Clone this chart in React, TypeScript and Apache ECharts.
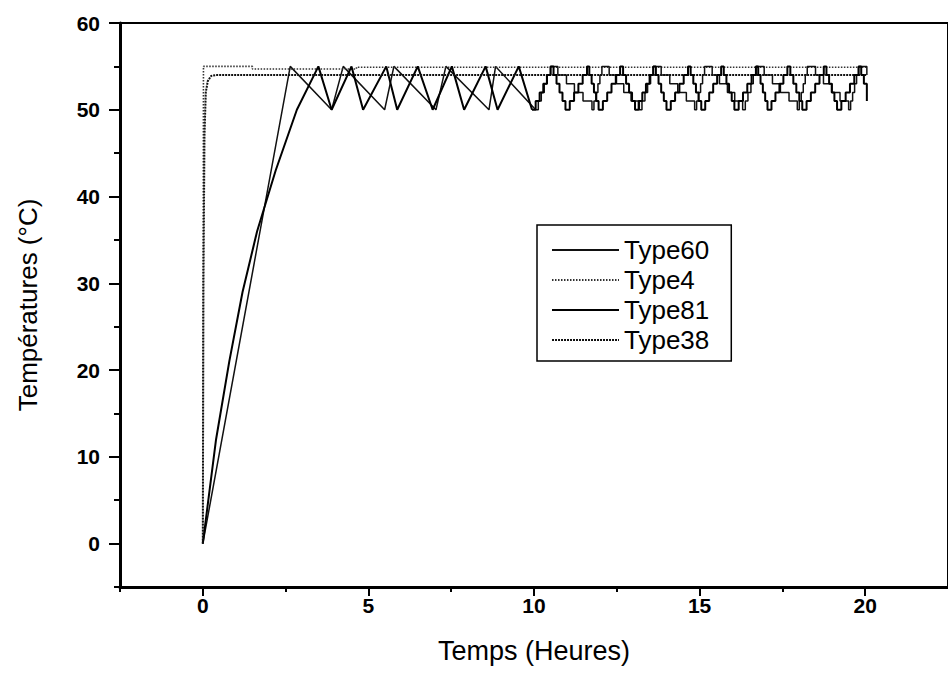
import React, { useEffect, useRef } from 'react';
import * as echarts from 'echarts';

const xMajorTicks = [0, 5, 10, 15, 20];
const xMinorTicks = [-2.5, 2.5, 7.5, 12.5, 17.5];
const yMajorTicks = [0, 10, 20, 30, 40, 50, 60];
const yMinorTicks = [-5, 5, 15, 25, 35, 45, 55];
const seriesNames = ['Type60', 'Type4', 'Type81', 'Type38'];

// Type60: fast linear rise then slow-fall sawtooth (straight part, 0 - 10 h)
const type60Ramp = [
  [0, 0], [2.64, 55], [3.89, 50], [4.24, 55], [5.49, 50], [5.77, 55], [7.04, 50],
  [7.34, 55], [8.64, 50], [8.84, 55], [10.05, 50],
];
// Type60: stepped part (10 - 20 h)
const type60Steps = [
  [10.05, 50], [10.13, 51], [10.22, 52], [10.31, 53], [10.4, 54], [10.5, 55],
  [10.72, 54], [10.98, 53], [11.22, 52], [11.48, 51], [11.75, 50],
  [11.81, 51], [11.87, 52], [11.93, 53], [11.99, 54], [12.05, 55],
  [12.27, 54], [12.49, 53], [12.71, 52], [12.93, 51], [13.18, 50],
  [13.26, 51], [13.35, 52], [13.43, 53], [13.52, 54], [13.6, 55],
  [13.84, 54], [14.1, 53], [14.34, 52], [14.6, 51], [14.85, 50],
  [14.91, 51], [14.97, 52], [15.03, 53], [15.09, 54], [15.15, 55],
  [15.38, 54], [15.6, 53], [15.84, 52], [16.06, 51], [16.3, 50],
  [16.38, 51], [16.46, 52], [16.55, 53], [16.62, 54], [16.7, 55],
  [16.95, 54], [17.2, 53], [17.44, 52], [17.7, 51], [17.95, 50],
  [18.01, 51], [18.07, 52], [18.13, 53], [18.19, 54], [18.25, 55],
  [18.5, 54], [18.74, 53], [19.0, 52], [19.24, 51], [19.5, 50],
  [19.56, 51], [19.62, 52], [19.68, 53], [19.74, 54], [19.8, 55],
  [20.05, 54],
];
// Type4: dotted near-constant line at ~55 °C
const type4Data = [
  [0, 0], [0.02, 55], [1.5, 55], [1.5, 54.7], [4.64, 54.7], [4.64, 54.9], [20.05, 54.9],
];
// Type38: dense dotted constant line at ~54 °C
const type38Data = [
  [0, 0], [0.02, 30], [0.05, 47], [0.09, 52], [0.15, 53.3], [0.25, 53.9], [0.4, 54], [20.05, 54],
];
// Type81: curved rise then sawtooth (straight part, 0 - 10 h)
const type81Ramp = [
  [0, 0], [0.4, 12], [0.8, 21], [1.2, 29], [1.64, 36], [2.2, 43], [2.84, 50], [3.49, 55],
  [3.89, 50], [4.49, 55], [4.84, 50], [5.54, 55], [5.87, 50], [6.49, 55], [6.94, 50],
  [7.52, 55], [7.89, 50], [8.54, 55], [8.9, 50], [9.54, 55], [9.94, 50],
];
// Type81: stepped part (10 - 20 h)
const type81Steps = [
  [9.94, 50], [10.05, 51], [10.17, 52], [10.28, 53], [10.39, 54], [10.5, 55],
  [10.59, 54], [10.68, 53], [10.77, 52], [10.86, 51], [10.95, 50],
  [11.08, 51], [11.21, 52], [11.34, 53], [11.47, 54], [11.6, 55],
  [11.67, 54], [11.74, 53], [11.81, 52], [11.88, 51], [11.95, 50],
  [12.08, 51], [12.21, 52], [12.34, 53], [12.47, 54], [12.6, 55],
  [12.69, 54], [12.78, 53], [12.87, 52], [12.96, 51], [13.05, 50],
  [13.16, 51], [13.27, 52], [13.38, 53], [13.49, 54], [13.6, 55],
  [13.68, 54], [13.76, 53], [13.84, 52], [13.92, 51], [14.0, 50],
  [14.13, 51], [14.26, 52], [14.39, 53], [14.52, 54], [14.65, 55],
  [14.73, 54], [14.81, 53], [14.89, 52], [14.97, 51], [15.05, 50],
  [15.17, 51], [15.29, 52], [15.41, 53], [15.53, 54], [15.65, 55],
  [15.73, 54], [15.81, 53], [15.89, 52], [15.97, 51], [16.05, 50],
  [16.18, 51], [16.31, 52], [16.44, 53], [16.57, 54], [16.7, 55],
  [16.77, 54], [16.84, 53], [16.91, 52], [16.98, 51], [17.05, 50],
  [17.17, 51], [17.29, 52], [17.41, 53], [17.53, 54], [17.65, 55],
  [17.74, 54], [17.83, 53], [17.92, 52], [18.01, 51], [18.1, 50],
  [18.23, 51], [18.36, 52], [18.49, 53], [18.62, 54], [18.75, 55],
  [18.83, 54], [18.91, 53], [18.99, 52], [19.07, 51], [19.15, 50],
  [19.28, 51], [19.41, 52], [19.54, 53], [19.67, 54], [19.8, 55],
  [19.88, 54], [19.96, 53], [20.05, 51],
];

const FONT = '"Liberation Sans", Arial, sans-serif';

export default function App() {
  const ref = useRef<HTMLDivElement>(null);
  useEffect(() => {
    if (!ref.current) return;
    const chart = echarts.init(ref.current, null, { renderer: 'svg' });
    const styles: Record<string, any> = {
      Type60: { color: '#111', width: 1.5, type: 'solid' },
      Type4: { color: '#333', width: 1.6, type: [1.5, 1.5] },
      Type81: { color: '#000', width: 2, type: 'solid' },
      Type38: { color: '#111', width: 2, type: [2, 1] },
    };
    const mk = (name: string, data: number[][], step?: string) => ({
      name,
      type: 'line',
      data,
      symbol: 'none',
      showSymbol: false,
      step: step || false,
      lineStyle: styles[name],
      itemStyle: { color: styles[name].color },
      z: 3,
    });
    const axisLine = { show: true, onZero: false, lineStyle: { color: '#000', width: 3 } };
    chart.setOption({
      animation: false,
      backgroundColor: '#fff',
      grid: {
        left: 120, top: 23, right: -7, bottom: 89,
        show: true, borderColor: '#000', borderWidth: 2,
      },
      legend: {
        data: seriesNames,
        orient: 'vertical',
        left: 537,
        top: 225,
        itemWidth: 67,
        itemHeight: 12,
        itemGap: 4,
        padding: [12, 22, 8, 14],
        borderColor: '#000',
        borderWidth: 1.5,
        backgroundColor: '#fff',
        itemStyle: { opacity: 0, borderWidth: 0 },
        textStyle: { fontSize: 26, fontFamily: FONT, color: '#000', lineHeight: 20 },
      },
      xAxis: [
        {
          type: 'value', min: -2.5, max: 22.5,
          axisLine,
          splitLine: { show: false },
          axisTick: { show: true, customValues: xMajorTicks, length: 9, lineStyle: { color: '#000', width: 2 } },
          axisLabel: {
            show: true, customValues: xMajorTicks, margin: 8,
            fontSize: 21, fontWeight: 'bold', fontFamily: FONT, color: '#000',
          },
          name: 'Temps (Heures)',
          nameLocation: 'middle',
          nameGap: 50,
          nameTextStyle: { fontSize: 27, fontFamily: FONT, color: '#000' },
        },
        {
          type: 'value', min: -2.5, max: 22.5, position: 'bottom',
          axisLine: { show: false, onZero: false },
          splitLine: { show: false },
          axisTick: { show: true, customValues: xMinorTicks, length: 5, lineStyle: { color: '#000', width: 2 } },
          axisLabel: { show: false },
        },
      ],
      yAxis: [
        {
          type: 'value', min: -5, max: 60,
          axisLine,
          splitLine: { show: false },
          axisTick: { show: true, customValues: yMajorTicks, length: 11, lineStyle: { color: '#000', width: 2 } },
          axisLabel: {
            show: true, customValues: yMajorTicks, margin: 20,
            fontSize: 21, fontWeight: 'bold', fontFamily: FONT, color: '#000',
          },
          name: 'Températures (°C)',
          nameLocation: 'middle',
          nameGap: 79,
          nameTextStyle: { fontSize: 26, fontFamily: FONT, color: '#000' },
        },
        {
          type: 'value', min: -5, max: 60, position: 'left',
          axisLine: { show: false, onZero: false },
          splitLine: { show: false },
          axisTick: { show: true, customValues: yMinorTicks, length: 6, lineStyle: { color: '#000', width: 2 } },
          axisLabel: { show: false },
        },
      ],
      series: [
        mk('Type60', type60Ramp),
        mk('Type4', type4Data),
        mk('Type81', type81Ramp),
        mk('Type38', type38Data),
        mk('Type60', type60Steps, 'end'),
        mk('Type81', type81Steps, 'end'),
      ],
    });
    return () => chart.dispose();
  }, []);
  return (
    <div
      ref={ref}
      style={{ position: 'fixed', left: 0, top: 0, width: 948, height: 676, background: '#fff' }}
    />
  );
}
